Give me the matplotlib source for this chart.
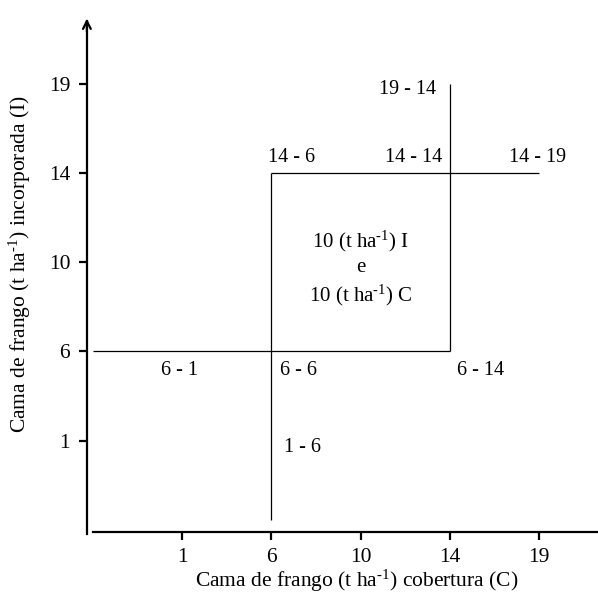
import numpy as np
import matplotlib.pyplot as plt

plt.rcParams['font.family'] = ['Liberation Serif', 'DejaVu Serif']
plt.rcParams['mathtext.fontset'] = 'custom'
plt.rcParams['mathtext.rm'] = 'Liberation Serif'
plt.rcParams['mathtext.default'] = 'regular'

# Doses de cama de frango (t/ha) - eixos categóricos
doses = [1, 6, 10, 14, 19]
pos = {d: i + 1 for i, d in enumerate(doses)}
pos[0] = 0  # origem dos eixos

# Segmentos: (C inicial, C final, I inicial, I final)
seg_c0 = [0, 6, 6, 14]
seg_c1 = [14, 19, 6, 14]
seg_i0 = [6, 14, 0.55, 6]
seg_i1 = [6, 14, 14, 19]

# Rótulos dos tratamentos (I - C) e posição aproximada em unidades de eixo
trat_labels = ['19 - 14', '14 - 6', '14 - 14', '14 - 19',
               '6 - 1', '6 - 6', '6 - 14', '1 - 6']
trat_x = [3.53, 2.23, 3.59, 4.98, 0.97, 2.30, 4.34, 2.35]
trat_y = [4.94, 4.17, 4.17, 4.17, 1.79, 1.79, 1.79, 0.92]

SUP = r'$^{\text{-1}}$'
center_text = ['10 (t ha' + SUP + ') I', 'e', '10 (t ha' + SUP + ') C']
center_y = [3.23, 2.94, 2.63]


def to_pos(v):
    # converte valor em posição; 0.55 -> um pouco acima do eixo
    return pos[v] if v in pos else v / 5.0


fig = plt.figure(figsize=(5.98, 5.94), dpi=100)
ax = fig.add_axes([0, 0, 1, 1])
ax.set_xlim(-1.038, 5.658)
ax.set_ylim(-0.717, 5.938)

for c0, c1, i0, i1 in zip(seg_c0, seg_c1, seg_i0, seg_i1):
    ax.plot([to_pos(c0), to_pos(c1)], [to_pos(i0), to_pos(i1)],
            color='black', linewidth=0.9, solid_capstyle='butt')

# eixos com setas
ax.spines['top'].set_visible(False)
ax.spines['right'].set_visible(False)
ax.spines['left'].set_position(('data', -0.065))
ax.spines['bottom'].set_position(('data', -0.02))
ax.spines['left'].set_bounds(-0.04, 5.70)
ax.spines['bottom'].set_bounds(0.0, 5.66)
ax.spines['left'].set_linewidth(1.6)
ax.spines['bottom'].set_linewidth(1.6)
ax.annotate('', xy=(-0.065, 5.76), xytext=(-0.065, 5.55),
            arrowprops=dict(arrowstyle='->', lw=1.6, color='black',
                            mutation_scale=14))

ax.set_xticks([pos[d] for d in doses])
ax.set_xticklabels([str(d) for d in doses])
ax.set_yticks([pos[d] for d in doses])
ax.set_yticklabels([str(d) for d in doses])
ax.tick_params(direction='out', length=6, width=1.6, labelsize=15.5, pad=6)

for t, x, y in zip(trat_labels, trat_x, trat_y):
    ax.text(x, y, t, ha='center', va='center', fontsize=14.5)
for t, y in zip(center_text, center_y):
    ax.text(3.0, y, t, ha='center', va='center', fontsize=15)

ax.text(2.96, -0.575, 'Cama de frango (t ha' + SUP + ') cobertura (C)',
        ha='center', va='center', fontsize=15.5)
ax.text(-0.815, (530 - 264) / 89.25, 'Cama de frango (t ha' + SUP + ') incorporada (I)',
        ha='center', va='center', fontsize=15.5, rotation=90)

fig.savefig('out.png', dpi=100)
